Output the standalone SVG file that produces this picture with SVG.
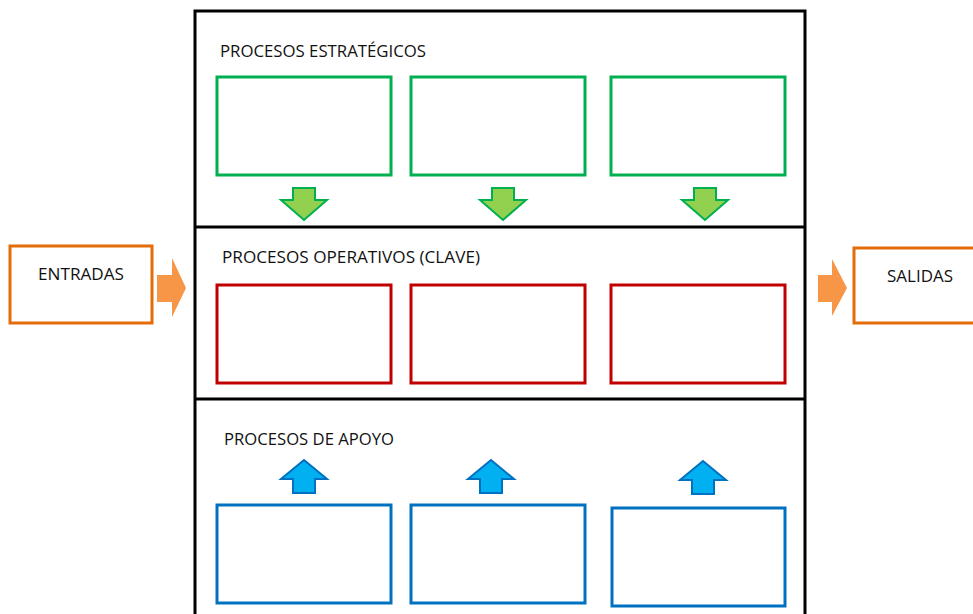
<svg xmlns="http://www.w3.org/2000/svg" width="973" height="614" viewBox="0 0 973 614">
  <style>
    .lbl { font-family: "Open Sans", "Liberation Sans", sans-serif; font-size: 17px; fill: #111; }
    .frame { fill: none; stroke: #000; stroke-width: 3; }
    .strat { fill: #fff; stroke: #00B050; stroke-width: 3; }
    .oper { fill: #fff; stroke: #C00000; stroke-width: 3; }
    .apoyo { fill: #fff; stroke: #0070C0; stroke-width: 3; }
    .io { fill: #fff; stroke: #E46C0A; stroke-width: 3; }
    .arr-g { fill: #92D050; stroke: #00B050; stroke-width: 2; stroke-linejoin: miter; }
    .arr-b { fill: #00B0F0; stroke: #0070C0; stroke-width: 2; stroke-linejoin: miter; }
    .arr-o { fill: #F79646; stroke: none; }
  </style>
  <defs>
    <path id="down" d="M-11,-32 H11 V-20 H23 L0,0 L-23,-20 H-11 Z"/>
    <path id="up" d="M-11,33 H11 V19 H23 L0,0 L-23,19 H-11 Z"/>
  </defs>
  <rect width="973" height="614" fill="#fff"/>

  <!-- main frame with three bands -->
  <g id="frame">
    <path class="frame" d="M195,616 V11 H805 V616"/>
    <line class="frame" x1="195" y1="227" x2="805" y2="227"/>
    <line class="frame" x1="195" y1="399" x2="805" y2="399"/>
  </g>

  <g id="estrategicos">
    <text class="lbl" x="220" y="57" textLength="206" lengthAdjust="spacingAndGlyphs">PROCESOS ESTRATÉGICOS</text>
    <rect id="e1" class="strat" x="217" y="77" width="174" height="98"/>
    <rect id="e2" class="strat" x="411" y="77" width="174" height="98"/>
    <rect id="e3" class="strat" x="611" y="77" width="174" height="98"/>
  </g>

  <g id="operativos">
    <text class="lbl" x="222" y="263" textLength="258" lengthAdjust="spacingAndGlyphs">PROCESOS OPERATIVOS (CLAVE)</text>
    <rect id="o1" class="oper" x="217" y="285" width="174" height="98"/>
    <rect id="o2" class="oper" x="411" y="285" width="174" height="98"/>
    <rect id="o3" class="oper" x="611" y="285" width="174" height="98"/>
  </g>

  <g id="apoyo">
    <text class="lbl" x="224" y="445" textLength="170" lengthAdjust="spacingAndGlyphs">PROCESOS DE APOYO</text>
    <rect id="a1" class="apoyo" x="217" y="505" width="174" height="98"/>
    <rect id="a2" class="apoyo" x="411" y="505" width="174" height="98"/>
    <rect id="a3" class="apoyo" x="612" y="508" width="173" height="98"/>
  </g>

  <g id="entradas">
    <rect class="io" x="10" y="246" width="142" height="77"/>
    <text class="lbl" x="81" y="280" text-anchor="middle" textLength="86" lengthAdjust="spacingAndGlyphs">ENTRADAS</text>
  </g>

  <g id="salidas">
    <rect class="io" x="854" y="248" width="125" height="75"/>
    <text class="lbl" x="920" y="282" text-anchor="middle" textLength="66" lengthAdjust="spacingAndGlyphs">SALIDAS</text>
  </g>

  <!-- connectors -->
  <g id="connectors">
    <use href="#down" class="arr-g" x="304" y="220"/>
    <use href="#down" class="arr-g" x="503" y="220"/>
    <use href="#down" class="arr-g" x="705" y="220"/>
    <use href="#up" class="arr-b" x="304" y="460"/>
    <use href="#up" class="arr-b" x="491" y="460"/>
    <use href="#up" class="arr-b" x="703" y="461"/>
    <path class="arr-o" d="M157,275 H172 V258 L186,288 L172,317 V302 H157 Z"/>
    <path class="arr-o" d="M818,275 H832 V259 L847,288 L832,316 V302 H818 Z"/>
  </g>
</svg>
